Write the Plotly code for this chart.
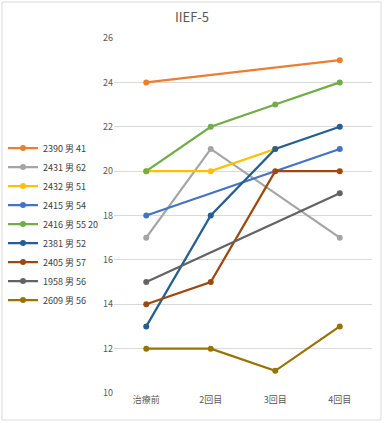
import plotly.graph_objects as go

categories = ["治療前", "2回目", "3回目", "4回目"]
series_names = ["2390 男 41", "2431 男 62", "2432 男 51", "2415 男 54", "2416 男 55 20",
                "2381 男 52", "2405 男 57", "1958 男 56", "2609 男 56"]
s2390 = [24, None, None, 25]
s2431 = [17, 21, None, 17]
s2432 = [20, 20, 21, None]
s2415 = [18, None, None, 21]
s2416 = [20, 22, 23, 24]
s2381 = [13, 18, 21, 22]
s2405 = [14, 15, 20, 20]
s1958 = [15, None, None, 19]
s2609 = [12, 12, 11, 13]
series_values = [s2390, s2431, s2432, s2415, s2416, s2381, s2405, s1958, s2609]
colors = ["#ED7D31", "#A5A5A5", "#FFC000", "#4472C4", "#70AD47",
          "#255E91", "#9E480E", "#636363", "#997300"]
y_ticks = [10, 12, 14, 16, 18, 20, 22, 24, 26]

W, H = 384, 423
ML, MR, MT, MB = 114, 12, 38, 30
pw, ph = W - ML - MR, H - MT - MB

fig = go.Figure()
for name, vals, c in zip(series_names, series_values, colors):
    fig.add_trace(go.Scatter(
        x=categories, y=vals, name=name, mode="lines+markers",
        connectgaps=True,
        line=dict(color=c, width=2.25),
        marker=dict(color=c, size=6),
    ))

fig.update_layout(
    width=W, height=H,
    margin=dict(l=ML, r=MR, t=MT, b=MB, autoexpand=False),
    paper_bgcolor="white", plot_bgcolor="white",
    font=dict(family="Noto Sans CJK JP, sans-serif", color="#595959", size=9),
    title=dict(text="IIEF-5", x=0.5, xanchor="center", y=1 - 17 / H, yanchor="middle",
               font=dict(size=13, color="#595959")),
    showlegend=True,
    legend=dict(x=(3 - ML) / pw, xanchor="left", y=(H - MB - 224) / ph, yanchor="middle",
                font=dict(size=9, color="#404040"), bgcolor="rgba(0,0,0,0)",
                itemwidth=30, tracegroupgap=0),
    xaxis=dict(type="category", range=[-0.5, 3.5], showgrid=False, showline=False,
               zeroline=False, ticks="", tickfont=dict(size=9, color="#595959")),
    yaxis=dict(range=[10, 26], tickvals=y_ticks, showgrid=True, gridcolor="#D9D9D9",
               gridwidth=1, zeroline=False, showline=False, ticks="",
               tickfont=dict(size=9, color="#595959")),
    shapes=[dict(type="rect", xref="paper", yref="paper",
                 x0=(2 - ML) / pw, x1=(381 - ML) / pw,
                 y0=(H - MB - 420) / ph, y1=(H - MB - 2) / ph,
                 line=dict(color="#D9D9D9", width=1), fillcolor="rgba(0,0,0,0)",
                 layer="below")],
)

fig.write_html("out.html", config={"displayModeBar": False},
               post_script="document.body.style.margin='0';")
